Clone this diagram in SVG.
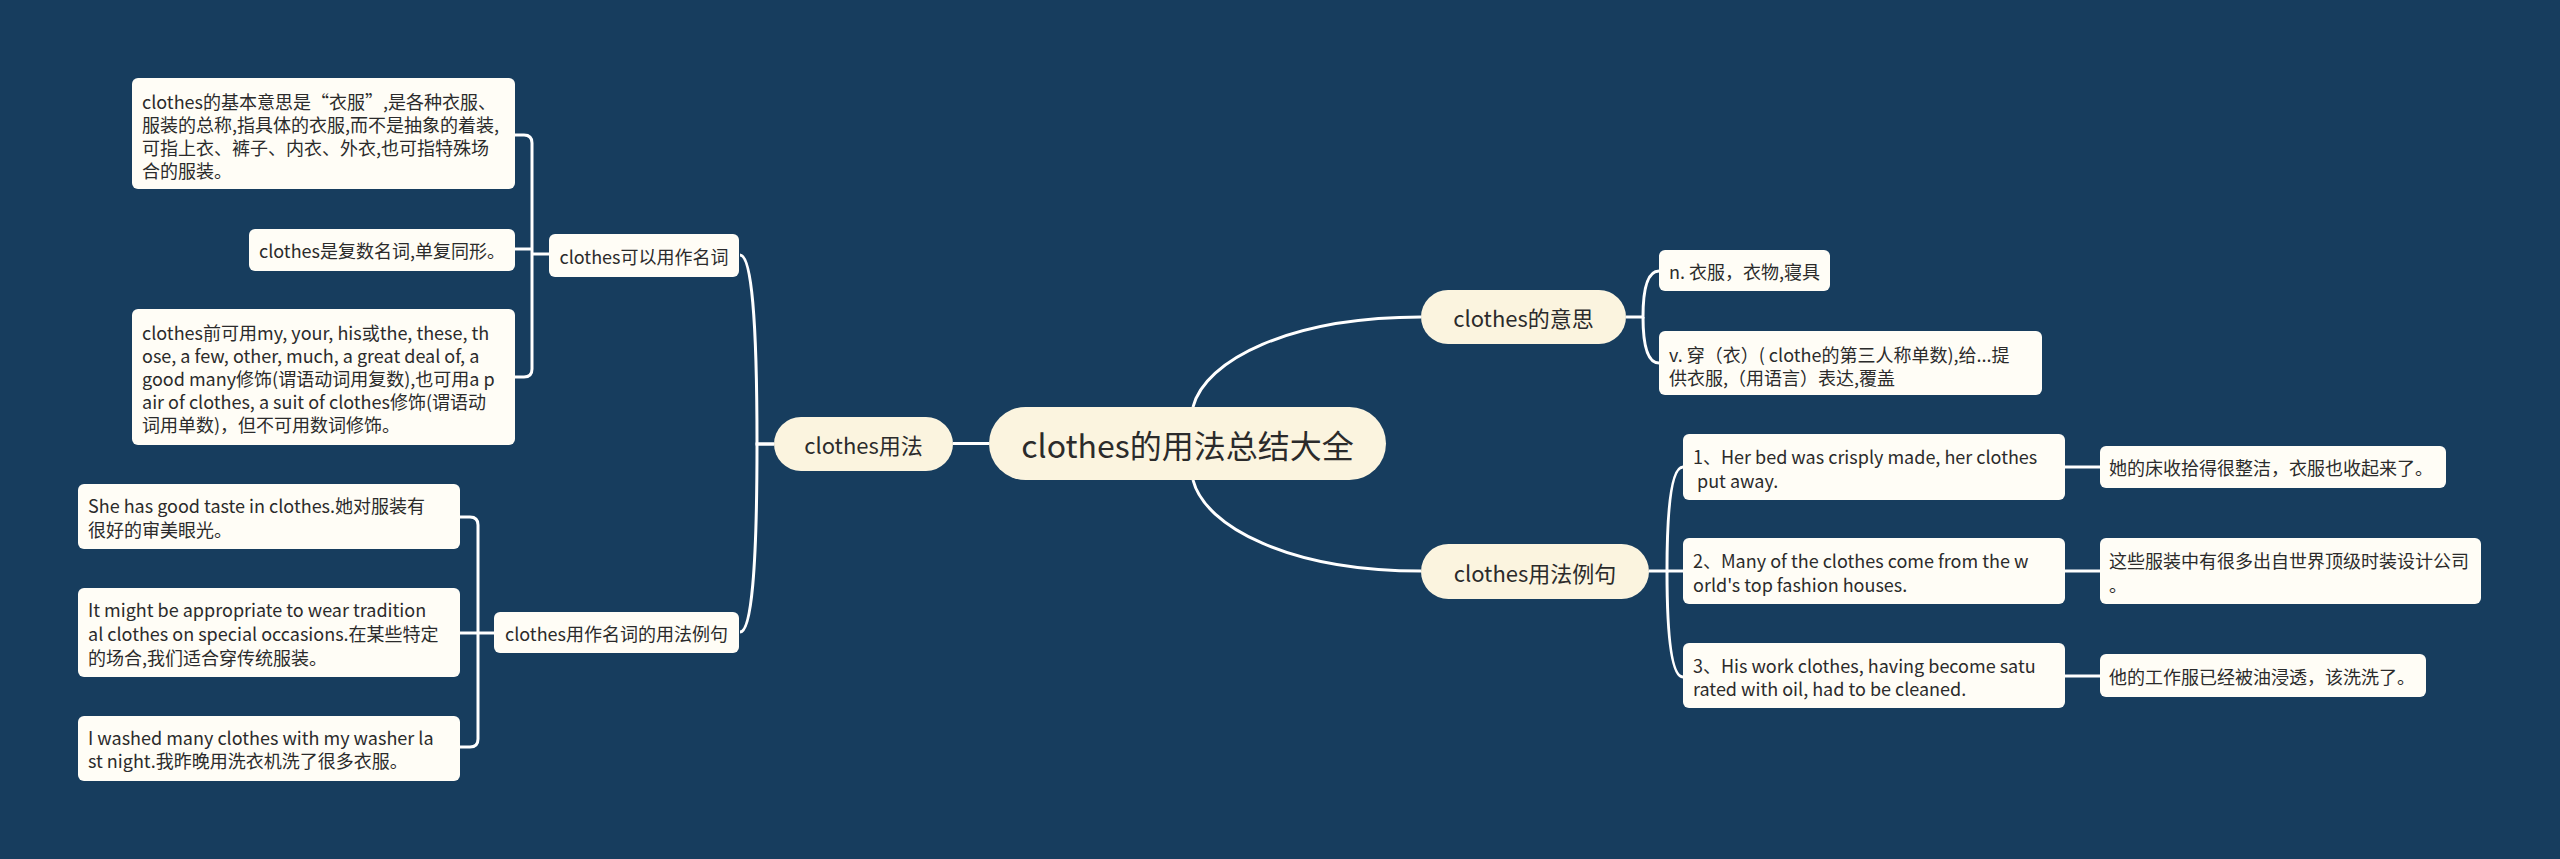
<svg xmlns="http://www.w3.org/2000/svg" width="2560" height="859" viewBox="0 0 2560 859">
<style>
.bg{fill:#173d5e}
.leaf{fill:#fffdf6}
.sub{fill:#fbf4df}
.t{font-family:"Noto Sans CJK SC","Noto Sans",sans-serif;fill:#2b2b2b;font-size:18px;dominant-baseline:central}
.m{text-anchor:middle}
.t22{font-size:22px}
.t34{font-size:32px}
#connectors path{fill:none;stroke:#ffffff;stroke-width:3}
</style>
<rect class="bg" x="0" y="0" width="2560" height="859"/>
<g id="connectors">
<path d="M953 443.5 H989"/>
<path d="M1193 407 C1205 360 1290 317 1421 317"/>
<path d="M1193 480 C1205 527 1290 571 1421 571"/>
<path d="M774 444 H757 Q757 255 740 255"/>
<path d="M774 444 H757 Q757 632 740 632"/>
<path d="M549 254 H532"/>
<path d="M515 135 H524 Q532 135 532 143 V369 Q532 377 524 377 H515"/>
<path d="M515 249 H532"/>
<path d="M494 633 H478"/>
<path d="M460 517 H470 Q478 517 478 525 V739 Q478 747 470 747 H460"/>
<path d="M460 633 H478"/>
<path d="M1626 317 H1643 Q1643 271 1659 271"/>
<path d="M1643 317 Q1643 363 1659 363"/>
<path d="M1649 571 H1667 Q1667 467 1683 467"/>
<path d="M1667 571 H1683"/>
<path d="M1667 571 Q1667 677 1683 677"/>
<path d="M2065 467 H2100"/>
<path d="M2065 571 H2100"/>
<path d="M2065 676 H2100"/>
</g>
<g id="main">
<rect class="sub" x="989" y="407" width="397" height="73" rx="36.5"/>
<text class="t t34 m" x="1187.5" y="443.5">clothes的用法总结大全</text>
</g>
<g id="n-usage">
<rect class="sub" x="774" y="417" width="179" height="54" rx="27"/>
<text class="t t22 m" x="863.5" y="444">clothes用法</text>
</g>
<g id="n-meaning">
<rect class="sub" x="1421" y="290" width="205" height="54" rx="27"/>
<text class="t t22 m" x="1523.5" y="317">clothes的意思</text>
</g>
<g id="n-examples">
<rect class="sub" x="1421" y="544" width="228" height="55" rx="27.5"/>
<text class="t t22 m" x="1535" y="571.5">clothes用法例句</text>
</g>
<g id="n-noun">
<rect class="leaf" x="549" y="234" width="190" height="43" rx="6"/>
<text class="t m" x="644" y="255.5">clothes可以用作名词</text>
</g>
<g id="n-noun-examples">
<rect class="leaf" x="494" y="612" width="245" height="41" rx="6"/>
<text class="t m" x="616.5" y="632.5">clothes用作名词的用法例句</text>
</g>
<g id="leaf-a">
<rect class="leaf" x="132" y="78" width="383" height="111" rx="6"/>
<text class="t" x="142" y="101">clothes的基本意思是“衣服”,是各种衣服、</text>
<text class="t" x="142" y="124">服装的总称,指具体的衣服,而不是抽象的着装,</text>
<text class="t" x="142" y="147">可指上衣、裤子、内衣、外衣,也可指特殊场</text>
<text class="t" x="142" y="170">合的服装。</text>
</g>
<g id="leaf-b">
<rect class="leaf" x="249" y="229" width="266" height="42" rx="6"/>
<text class="t" x="259" y="250">clothes是复数名词,单复同形。</text>
</g>
<g id="leaf-c">
<rect class="leaf" x="132" y="309" width="383" height="136" rx="6"/>
<text class="t" x="142" y="332">clothes前可用my, your, his或the, these, th</text>
<text class="t" x="142" y="355">ose, a few, other, much, a great deal of, a</text>
<text class="t" x="142" y="378">good many修饰(谓语动词用复数),也可用a p</text>
<text class="t" x="142" y="401">air of clothes, a suit of clothes修饰(谓语动</text>
<text class="t" x="142" y="424">词用单数)，但不可用数词修饰。</text>
</g>
<g id="leaf-d">
<rect class="leaf" x="78" y="484" width="382" height="65" rx="6"/>
<text class="t" x="88" y="505">She has good taste in clothes.她对服装有</text>
<text class="t" x="88" y="529">很好的审美眼光。</text>
</g>
<g id="leaf-e">
<rect class="leaf" x="78" y="588" width="382" height="89" rx="6"/>
<text class="t" x="88" y="609">It might be appropriate to wear tradition</text>
<text class="t" x="88" y="633">al clothes on special occasions.在某些特定</text>
<text class="t" x="88" y="657">的场合,我们适合穿传统服装。</text>
</g>
<g id="leaf-f">
<rect class="leaf" x="78" y="716" width="382" height="65" rx="6"/>
<text class="t" x="88" y="737">I washed many clothes with my washer la</text>
<text class="t" x="88" y="760">st night.我昨晚用洗衣机洗了很多衣服。</text>
</g>
<g id="leaf-g">
<rect class="leaf" x="1659" y="250" width="171" height="41" rx="6"/>
<text class="t" x="1669" y="270.5">n. 衣服，衣物,寝具</text>
</g>
<g id="leaf-h">
<rect class="leaf" x="1659" y="331" width="383" height="64" rx="6"/>
<text class="t" x="1669" y="354">v. 穿（衣）( clothe的第三人称单数),给...提</text>
<text class="t" x="1669" y="377">供衣服,（用语言）表达,覆盖</text>
</g>
<g id="leaf-i">
<rect class="leaf" x="1683" y="434" width="382" height="66" rx="6"/>
<text class="t" x="1693" y="456">1、Her bed was crisply made, her clothes</text>
<text class="t" x="1693" y="480" xml:space="preserve"> put away.</text>
</g>
<g id="leaf-j">
<rect class="leaf" x="1683" y="538" width="382" height="66" rx="6"/>
<text class="t" x="1693" y="560">2、Many of the clothes come from the w</text>
<text class="t" x="1693" y="584">orld's top fashion houses.</text>
</g>
<g id="leaf-k">
<rect class="leaf" x="1683" y="643" width="382" height="65" rx="6"/>
<text class="t" x="1693" y="665">3、His work clothes, having become satu</text>
<text class="t" x="1693" y="688">rated with oil, had to be cleaned.</text>
</g>
<g id="leaf-i2">
<rect class="leaf" x="2100" y="446" width="346" height="42" rx="6"/>
<text class="t" x="2109" y="467">她的床收拾得很整洁，衣服也收起来了。</text>
</g>
<g id="leaf-j2">
<rect class="leaf" x="2100" y="538" width="381" height="66" rx="6"/>
<text class="t" x="2109" y="560">这些服装中有很多出自世界顶级时装设计公司</text>
<text class="t" x="2109" y="584">。</text>
</g>
<g id="leaf-k2">
<rect class="leaf" x="2100" y="654" width="326" height="43" rx="6"/>
<text class="t" x="2109" y="675.5">他的工作服已经被油浸透，该洗洗了。</text>
</g>
</svg>
